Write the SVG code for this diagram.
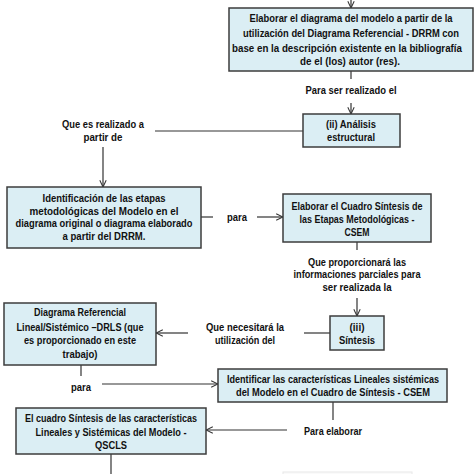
<svg xmlns="http://www.w3.org/2000/svg" width="474" height="474" viewBox="0 0 474 474">
<defs>
<marker id="arr" viewBox="0 0 10 10" refX="9.5" refY="5" markerWidth="8" markerHeight="8" markerUnits="userSpaceOnUse" orient="auto">
<path d="M1,1 L9.5,5 L1,9" fill="none" stroke="#333" stroke-width="1.3"/>
</marker>
</defs>
<style>
.box{fill:#dbeef4;stroke:#3c3c3c;stroke-width:1.5}
.t{font-family:"Liberation Sans",Arial,sans-serif;font-weight:bold;font-size:10.6px;fill:#111;text-anchor:middle}
.c{fill:none;stroke:#333;stroke-width:1.2}
</style>
<rect width="474" height="474" fill="#fff"/>
<g id="connectors">
<line class="c" x1="351" y1="0" x2="351" y2="8" marker-end="url(#arr)"/>
<line class="c" x1="351" y1="71" x2="351" y2="79"/>
<line class="c" x1="351" y1="103" x2="351" y2="114" marker-end="url(#arr)"/>
<line class="c" x1="303" y1="131" x2="155" y2="131"/>
<line class="c" x1="103" y1="147" x2="103" y2="187" marker-end="url(#arr)"/>
<line class="c" x1="201" y1="217" x2="213" y2="217"/>
<line class="c" x1="257" y1="217" x2="283" y2="217" marker-end="url(#arr)"/>
<line class="c" x1="357" y1="242" x2="357" y2="250"/>
<line class="c" x1="357" y1="298" x2="357" y2="316" marker-end="url(#arr)"/>
<line class="c" x1="330" y1="333" x2="304" y2="333"/>
<line class="c" x1="188" y1="333" x2="156" y2="333" marker-end="url(#arr)"/>
<line class="c" x1="81" y1="365" x2="81" y2="376"/>
<line class="c" x1="102" y1="384" x2="218" y2="384" marker-end="url(#arr)"/>
<line class="c" x1="333" y1="402" x2="333" y2="420"/>
<line class="c" x1="287" y1="430" x2="206" y2="430" marker-end="url(#arr)"/>
<line class="c" x1="111" y1="454" x2="111" y2="474"/>
</g>
<g id="labels">
<text class="t" x="351" y="94" textLength="91" lengthAdjust="spacingAndGlyphs">Para ser realizado el</text>
<text class="t" x="103" y="128" textLength="82" lengthAdjust="spacingAndGlyphs">Que es realizado a</text>
<text class="t" x="103" y="141" textLength="39" lengthAdjust="spacingAndGlyphs">partir de</text>
<text class="t" x="237" y="221" textLength="20" lengthAdjust="spacingAndGlyphs">para</text>
<text class="t" x="357" y="266" textLength="98" lengthAdjust="spacingAndGlyphs">Que proporcionará las</text>
<text class="t" x="357" y="278" textLength="127" lengthAdjust="spacingAndGlyphs">informaciones parciales para</text>
<text class="t" x="357" y="291" textLength="69" lengthAdjust="spacingAndGlyphs">ser realizada la</text>
<text class="t" x="245" y="331" textLength="78" lengthAdjust="spacingAndGlyphs">Que necesitará la</text>
<text class="t" x="245" y="344" textLength="60" lengthAdjust="spacingAndGlyphs">utilización del</text>
<text class="t" x="81" y="391" textLength="20" lengthAdjust="spacingAndGlyphs">para</text>
<text class="t" x="333" y="435" textLength="58" lengthAdjust="spacingAndGlyphs">Para elaborar</text>
</g>
<g id="n1">
<rect class="box" x="229" y="8" width="244" height="63"/>
<text class="t" x="351" y="22" textLength="203" lengthAdjust="spacingAndGlyphs">Elaborar el diagrama del modelo a partir de la</text>
<text class="t" x="351" y="37" textLength="216" lengthAdjust="spacingAndGlyphs">utilización del Diagrama Referencial  - DRRM con</text>
<text class="t" x="347" y="52" textLength="230" lengthAdjust="spacingAndGlyphs">base en la descripción existente en la bibliografía</text>
<text class="t" x="350" y="65" textLength="100" lengthAdjust="spacingAndGlyphs">de el (los) autor (res).</text>
</g>
<g id="n2">
<rect class="box" x="303" y="114" width="97" height="33"/>
<text class="t" x="351" y="128" textLength="50" lengthAdjust="spacingAndGlyphs">(ii) Análisis</text>
<text class="t" x="351" y="141" textLength="48" lengthAdjust="spacingAndGlyphs">estructural</text>
</g>
<g id="n3">
<rect class="box" x="7" y="187" width="194" height="61"/>
<text class="t" x="104" y="202" textLength="123" lengthAdjust="spacingAndGlyphs">Identificación de las etapas</text>
<text class="t" x="104" y="215" textLength="149" lengthAdjust="spacingAndGlyphs">metodológicas del Modelo en el</text>
<text class="t" x="104" y="227" textLength="177" lengthAdjust="spacingAndGlyphs">diagrama original o diagrama elaborado</text>
<text class="t" x="104" y="240" textLength="83" lengthAdjust="spacingAndGlyphs">a partir del DRRM.</text>
</g>
<g id="n4">
<rect class="box" x="283" y="194" width="148" height="48"/>
<text class="t" x="357" y="210" textLength="131" lengthAdjust="spacingAndGlyphs">Elaborar el Cuadro Síntesis de</text>
<text class="t" x="357" y="223" textLength="115" lengthAdjust="spacingAndGlyphs">las Etapas Metodológicas -</text>
<text class="t" x="357" y="236" textLength="25" lengthAdjust="spacingAndGlyphs">CSEM</text>
</g>
<g id="n5">
<rect class="box" x="330" y="316" width="54" height="34"/>
<text class="t" x="357" y="331" textLength="15" lengthAdjust="spacingAndGlyphs">(iii)</text>
<text class="t" x="357" y="344" textLength="36" lengthAdjust="spacingAndGlyphs">Síntesis</text>
</g>
<g id="n6">
<rect class="box" x="4" y="303" width="152" height="62"/>
<text class="t" x="80" y="316" textLength="92" lengthAdjust="spacingAndGlyphs">Diagrama Referencial</text>
<text class="t" x="80" y="331" textLength="127" lengthAdjust="spacingAndGlyphs">Lineal/Sistémico –DRLS (que</text>
<text class="t" x="80" y="344" textLength="112" lengthAdjust="spacingAndGlyphs">es proporcionado en este</text>
<text class="t" x="80" y="358" textLength="35" lengthAdjust="spacingAndGlyphs">trabajo)</text>
</g>
<g id="n7">
<rect class="box" x="218" y="369" width="229" height="33"/>
<text class="t" x="333" y="383" textLength="212" lengthAdjust="spacingAndGlyphs">Identificar las características Lineales sistémicas</text>
<text class="t" x="333" y="396" textLength="194" lengthAdjust="spacingAndGlyphs">del Modelo en el Cuadro de Síntesis  - CSEM</text>
</g>
<g id="n8">
<rect class="box" x="16" y="408" width="190" height="46"/>
<text class="t" x="111" y="422" textLength="172" lengthAdjust="spacingAndGlyphs">El cuadro Síntesis de las características</text>
<text class="t" x="111" y="436" textLength="151" lengthAdjust="spacingAndGlyphs">Lineales y Sistémicas del Modelo -</text>
<text class="t" x="111" y="449" textLength="32" lengthAdjust="spacingAndGlyphs">QSCLS</text>
</g>
<g id="n9">
<rect x="283" y="472" width="129" height="10" fill="#fafafa" stroke="#e8e8e8" stroke-width="1"/>
</g>
</svg>
